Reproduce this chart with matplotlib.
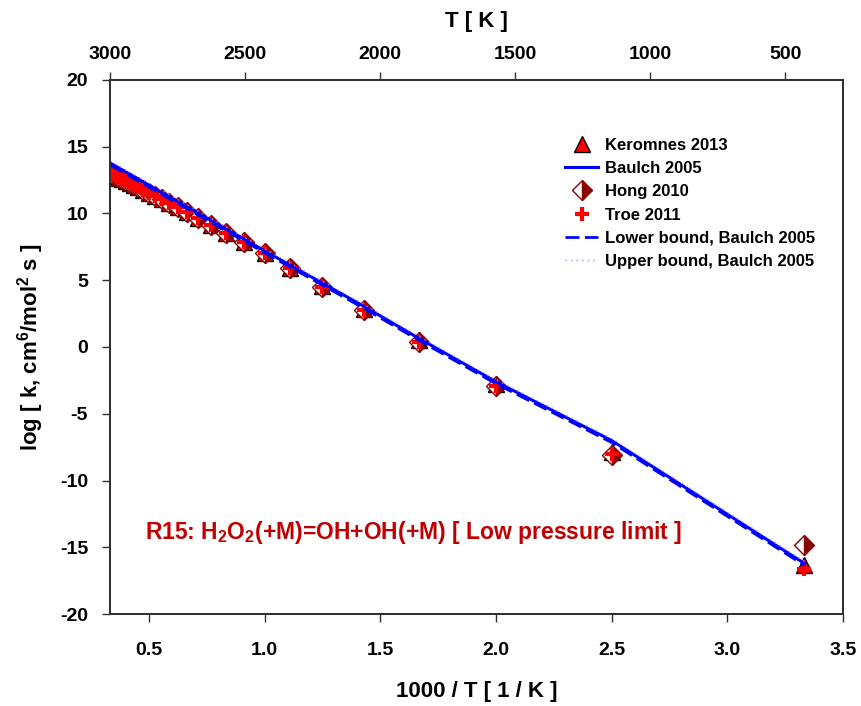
import matplotlib
matplotlib.use('Agg')
import matplotlib.pyplot as plt
import numpy as np

plt.rcParams['font.family'] = ['Liberation Sans', 'DejaVu Sans']
plt.rcParams['font.weight'] = 'bold'
plt.rcParams['mathtext.default'] = 'regular'
plt.rcParams['axes.unicode_minus'] = False

# temperature grid of the data
temps = [3000, 2900, 2800, 2700, 2600, 2500, 2400, 2300, 2200, 2100, 2000,
         1900, 1800, 1700, 1600, 1500, 1400, 1300, 1200, 1100, 1000,
         900, 800, 700, 600, 500, 400, 300]

keromnes = [13.00, 12.90, 12.80, 12.68, 12.56, 12.43, 12.29, 12.13, 11.96, 11.77, 11.56,
            11.33, 11.07, 10.78, 10.46, 10.08, 9.65, 9.15, 8.56, 7.86, 7.00,
            5.95, 4.55, 2.85, 0.55, -2.80, -7.85, -16.30]
hong = [13.00, 12.90, 12.80, 12.68, 12.56, 12.43, 12.29, 12.13, 11.96, 11.77, 11.56,
        11.33, 11.07, 10.78, 10.46, 10.08, 9.65, 9.15, 8.56, 7.86, 7.00,
        5.90, 4.50, 2.80, 0.40, -2.95, -8.05, -14.80]
troe = [13.00, 12.90, 12.80, 12.68, 12.56, 12.43, 12.29, 12.13, 11.96, 11.77, 11.56,
        11.33, 11.07, 10.78, 10.46, 10.08, 9.65, 9.15, 8.56, 7.86, 7.00,
        5.90, 4.50, 2.80, 0.40, -2.95, -8.00, -16.60]
baulch = [13.76, 13.65, 13.53, 13.40, 13.26, 13.10, 12.94, 12.76, 12.57, 12.35, 12.12,
          11.86, 11.57, 11.25, 10.89, 10.48, 10.01, 9.47, 8.84, 8.10, 7.20,
          6.12, 4.78, 3.05, 0.65, -2.60, -7.00, -16.20]
baulch_low = [13.61, 13.50, 13.38, 13.25, 13.11, 12.95, 12.79, 12.61, 12.42, 12.20, 11.97,
              11.71, 11.42, 11.10, 10.74, 10.33, 9.86, 9.32, 8.69, 7.95, 7.05,
              5.97, 4.63, 2.90, 0.50, -2.75, -7.15, -16.35]
baulch_up = [13.91, 13.80, 13.68, 13.55, 13.41, 13.25, 13.09, 12.91, 12.72, 12.50, 12.27,
             12.01, 11.72, 11.40, 11.04, 10.63, 10.16, 9.62, 8.99, 8.25, 7.35,
             6.27, 4.93, 3.20, 0.80, -2.45, -6.85, -16.05]

x = 1000.0 / np.array(temps)

fig = plt.figure(figsize=(8.62, 7.06), dpi=100)
ax = fig.add_axes([0.128, 0.130, 0.850, 0.757])

ax.plot(x, keromnes, linestyle='none', marker='^', ms=12, mfc='red', mec='black',
        mew=1.0, label='Keromnes 2013', zorder=3)
ax.plot(x, baulch, color='#0000FF', lw=2.2, label='Baulch 2005', zorder=5)
ax.plot(x, hong, linestyle='none', marker='D', ms=10, fillstyle='right',
        mfc='#8B0000', markerfacecoloralt='white', mec='#8B0000', mew=1.0,
        label='Hong 2010', zorder=4)
ax.plot(x, troe, linestyle='none', marker='+', ms=9.5, mec='red', mew=3,
        label='Troe 2011', zorder=4.5)
ax.plot(x, baulch_low, color='#0000FF', lw=2, ls=(0, (5, 2)),
        label='Lower bound, Baulch 2005', zorder=5)
ax.plot(x, baulch_up, color='#9090FF', lw=1, ls=(0, (1, 3)),
        label='Upper bound, Baulch 2005', zorder=5)

ax.set_xlim(1000.0 / 3000, 3.5)
ax.set_ylim(-20, 20)
ax.set_xticks([0.5, 1.0, 1.5, 2.0, 2.5, 3.0, 3.5])
ax.set_xticklabels(['0.5', '1.0', '1.5', '2.0', '2.5', '3.0', '3.5'])
ax.set_yticks([-20, -15, -10, -5, 0, 5, 10, 15, 20])
ax.tick_params(axis='y', direction='out', length=6, width=1, labelsize=14,
               colors='#303030', labelcolor='black', pad=10)
ax.tick_params(axis='x', direction='out', length=6, width=1, labelsize=14,
               colors='#303030', labelcolor='black', pad=14)
for sp in ax.spines.values():
    sp.set_color('#303030')
    sp.set_linewidth(1.3)

ax.set_xlabel('1000 / T [ 1 / K ]', fontsize=16, fontweight='bold', labelpad=16)
ax.set_ylabel('log [ k, cm$^6$/mol$^2$ s ]', fontsize=16, fontweight='bold', labelpad=10)

top = ax.twiny()
top.set_xlim(3000, 1000.0 / 3.5)
top.set_xticks([3000, 2500, 2000, 1500, 1000, 500])
top.tick_params(direction='out', length=6, width=1, labelsize=14, colors='#303030',
                labelcolor='black', pad=6)
top.set_xlabel('T [ K ]', fontsize=16, fontweight='bold', labelpad=14)
for sp in top.spines.values():
    sp.set_color('#303030')
    sp.set_linewidth(1.3)

ax.text(0.047, 0.152, 'R15: H$_2$O$_2$(+M)=OH+OH(+M) [ Low pressure limit ]',
        transform=ax.transAxes, color='#C00000', fontsize=16.5, fontweight='bold',
        va='center', ha='left')

leg = ax.legend(loc='upper left', bbox_to_anchor=(0.60, 0.92), frameon=False,
                handlelength=2.0, handletextpad=0.4, labelspacing=0.5,
                prop={'weight': 'bold', 'size': 12})

fig.savefig('out.png', dpi=100)
